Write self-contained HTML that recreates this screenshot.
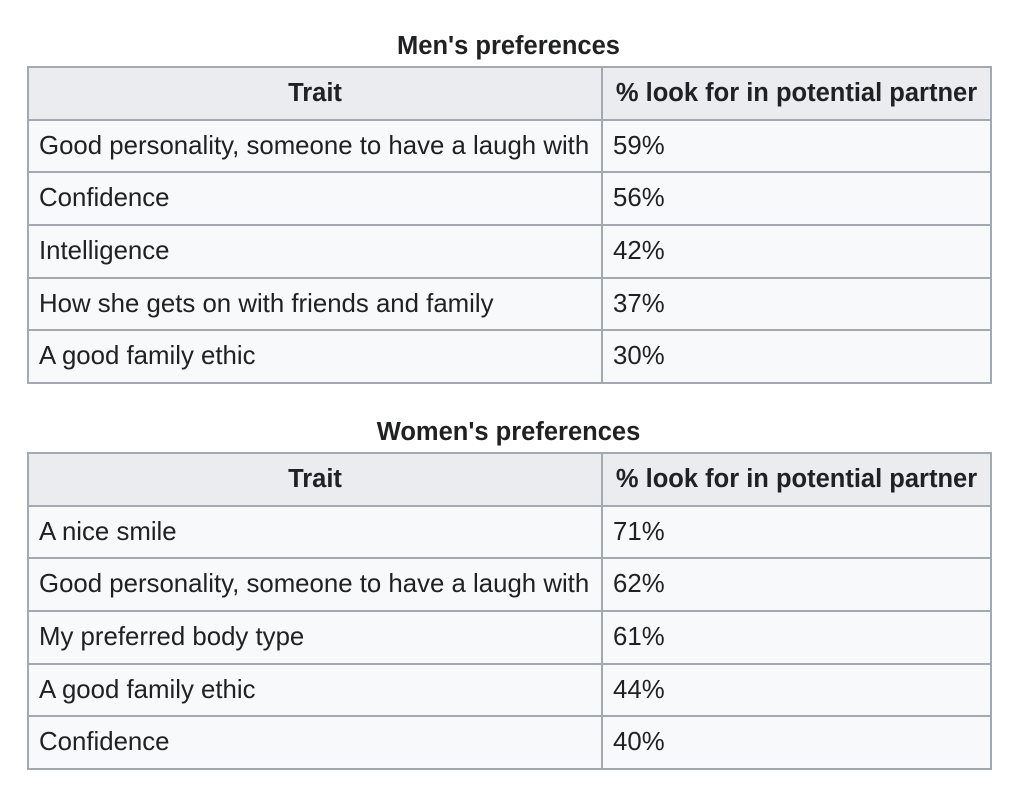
<!DOCTYPE html>
<html><head><style>
body{margin:0;background:#fff;font-family:"Liberation Sans",Arial,sans-serif;color:#202122;width:1023px;height:792px;position:relative;overflow:hidden}
.cap{position:absolute;left:27px;width:963px;text-align:center;font-weight:bold;font-size:25.5px}
table{position:absolute;left:27px;border-collapse:collapse;background:#f8f9fa;font-size:25.8px}
td,th{border:2px solid #a2a9b1;padding:0 10px;height:50.7px;text-align:left;white-space:nowrap}
th{background:#eaecf0;text-align:center;font-size:25.5px}
col.a{width:574px}col.b{width:389px}
</style></head><body>
<div class="cap" style="top:32px">Men's preferences</div>
<table style="top:66px">
<colgroup><col class="a"><col class="b"></colgroup>
<tr><th>Trait</th><th>% look for in potential partner</th></tr>
<tr><td>Good personality, someone to have a laugh with</td><td>59%</td></tr>
<tr><td>Confidence</td><td>56%</td></tr>
<tr><td>Intelligence</td><td>42%</td></tr>
<tr><td>How she gets on with friends and family</td><td>37%</td></tr>
<tr><td>A good family ethic</td><td>30%</td></tr>
</table>
<div class="cap" style="top:418px">Women's preferences</div>
<table style="top:452px">
<colgroup><col class="a"><col class="b"></colgroup>
<tr><th>Trait</th><th>% look for in potential partner</th></tr>
<tr><td>A nice smile</td><td>71%</td></tr>
<tr><td>Good personality, someone to have a laugh with</td><td>62%</td></tr>
<tr><td>My preferred body type</td><td>61%</td></tr>
<tr><td>A good family ethic</td><td>44%</td></tr>
<tr><td>Confidence</td><td>40%</td></tr>
</table>
</body></html>
